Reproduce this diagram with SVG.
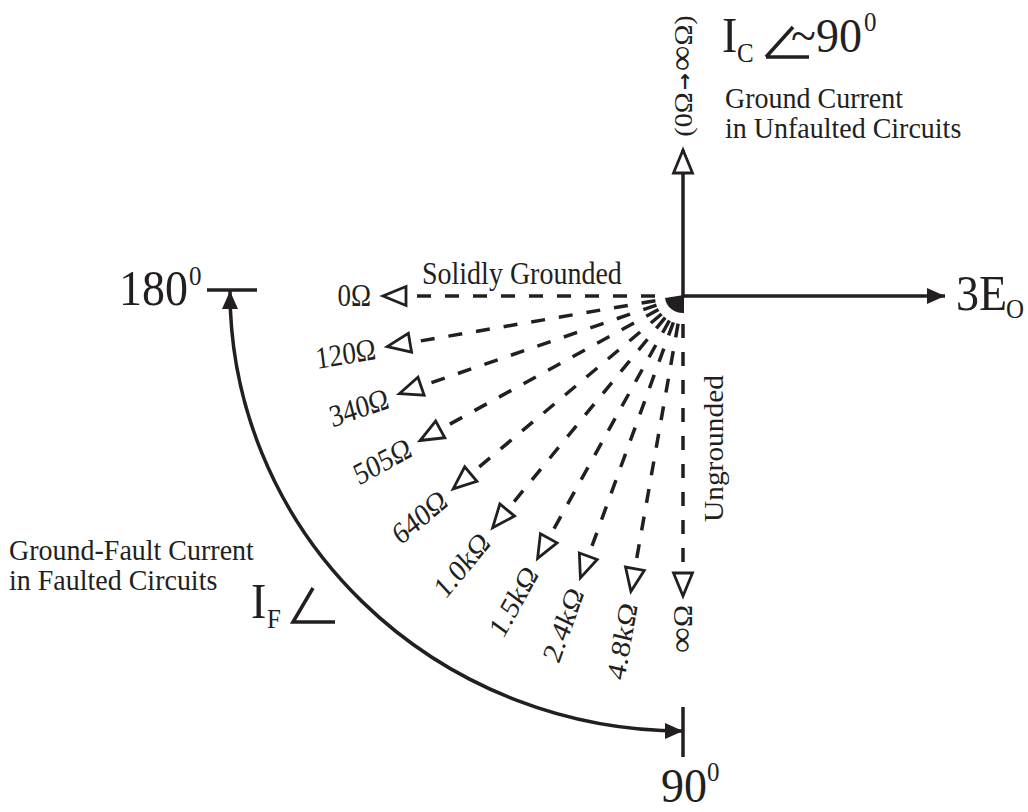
<svg xmlns="http://www.w3.org/2000/svg" width="1028" height="812" viewBox="0 0 1028 812">
<style>
text{font-family:"Liberation Serif","Times New Roman",serif;fill:#231f20}
.big{font-size:46px}
.sub{font-size:25px}
.mid{font-size:28px}
.lab{font-size:27px}
.ax{stroke:#231f20;stroke-width:3.5;fill:none}
.fan{stroke:#231f20;stroke-width:3.5;fill:none;stroke-dasharray:14 14;marker-end:url(#open)}
.arw{font-family:"DejaVu Sans",sans-serif;font-weight:bold}
</style>
<defs>
<marker id="open" viewBox="-27 -13 30 26" refX="0" refY="0" markerWidth="30" markerHeight="26" markerUnits="userSpaceOnUse" orient="auto" overflow="visible">
<path d="M0,0 L-23,-9.5 L-23,9.5 Z" fill="#fff" stroke="#231f20" stroke-width="2.8" stroke-linejoin="miter"/>
</marker>
<marker id="fill" viewBox="-20 -10 22 20" refX="0" refY="0" markerWidth="22" markerHeight="20" markerUnits="userSpaceOnUse" orient="auto-start-reverse" overflow="visible">
<path d="M0,0 L-18,-8 L-18,8 Z" fill="#231f20"/>
</marker>
</defs>

<g id="connectors">
<line class="ax" x1="683" y1="296" x2="945" y2="296" marker-end="url(#fill)"/>
<line class="ax" x1="683" y1="298" x2="683" y2="150" marker-end="url(#open)"/>
<path class="ax" d="M230,291 A453,440 0 0 0 683,731" stroke-width="3" marker-start="url(#fill)" marker-end="url(#fill)"/>
<line class="fan" x1="655" y1="296" x2="383" y2="296"/>
<line class="fan" x1="655.4" y1="300.7" x2="387.3" y2="346.6"/>
<line class="fan" x1="656.5" y1="305.1" x2="399.3" y2="393.7"/>
<line class="fan" x1="658.5" y1="309.5" x2="420.1" y2="440.5"/>
<line class="fan" x1="661.6" y1="314.0" x2="453.2" y2="488.8"/>
<line class="fan" x1="665.2" y1="317.6" x2="492.6" y2="527.8"/>
<line class="fan" x1="669.4" y1="320.5" x2="537.6" y2="558.4"/>
<line class="fan" x1="673.4" y1="322.3" x2="580.4" y2="577.9"/>
<line class="fan" x1="678.1" y1="323.6" x2="630.9" y2="591.4"/>
<line class="fan" x1="683" y1="324" x2="683" y2="596" stroke-width="4"/>
<path d="M684,295 L665,298 A18,17 0 0 0 684,313 Z" fill="#231f20"/>
<line class="ax" x1="207" y1="290" x2="257" y2="290" stroke-width="4"/>
<line class="ax" x1="683" y1="707" x2="683" y2="757" stroke-width="4"/>
</g>

<g id="label-ic">
<text class="big" transform="translate(722,52) scale(1,1.1)">I</text>
<text class="sub" transform="translate(737,62) scale(1,1.1)">C</text>
<path class="ax" d="M766,57 L793,27 M766,57 H809" stroke-width="3"/>
<text class="big" font-size="49" transform="translate(791,52) scale(1,1.05)">~90</text>
<text class="sub" transform="translate(864,31) scale(1,1.1)">0</text>
<text class="mid" transform="translate(725,108) scale(1,1.08)">Ground Current</text>
<text class="mid" transform="translate(725,138) scale(1,1.08)">in Unfaulted Circuits</text>
<text font-size="26" text-anchor="middle" transform="translate(692,76) scale(1,1.08) rotate(-90)">(0Ω<tspan class="arw" font-size="19" dx="2" dy="-1">→</tspan><tspan dx="2" dy="1" font-size="33">∞</tspan>Ω)</text>
</g>

<g id="label-3eo">
<text class="big" transform="translate(956,310) scale(1,1.1)">3E</text>
<text class="sub" transform="translate(1006,318) scale(1,1.1)">O</text>
</g>

<g id="label-180">
<text class="big" transform="translate(119,305) scale(1,1.1)">180</text>
<text class="sub" transform="translate(189,285) scale(1,1.1)">0</text>
</g>

<g id="label-90">
<text class="big" transform="translate(661,802) scale(1,1.06)">90</text>
<text class="sub" transform="translate(707,781) scale(1,1.1)">0</text>
</g>

<g id="label-if">
<text class="big" transform="translate(251,618) scale(1,1.1)">I</text>
<text class="sub" transform="translate(267,628) scale(1,1.1)">F</text>
<path class="ax" d="M313,588 L293,622 H335" stroke-width="3"/>
<text class="mid" transform="translate(9,560) scale(1,1.08)">Ground-Fault Current</text>
<text class="mid" transform="translate(9,590) scale(1,1.08)">in Faulted Circuits</text>
</g>

<g id="label-solid">
<text class="mid" font-size="27" transform="translate(422,284) scale(1,1.12)">Solidly Grounded</text>
</g>
<g id="label-ungrounded">
<text class="mid" font-size="27" transform="translate(723,522) scale(1,1.05) rotate(-90)">Ungrounded</text>
</g>

<g id="fan-labels">
<text class="lab" text-anchor="end" y="9" transform="translate(371,296) scale(1,1.15)">0Ω</text>
<text class="lab" text-anchor="end" y="9" transform="translate(375.5,348.6) scale(1,1.15) rotate(-8.45)">120Ω</text>
<text class="lab" text-anchor="end" y="9" transform="translate(388,397.6) scale(1,1.15) rotate(-16.67)">340Ω</text>
<text class="lab" text-anchor="end" y="9" transform="translate(409.6,446.3) scale(1,1.15) rotate(-25.55)">505Ω</text>
<text class="lab" text-anchor="end" y="9" transform="translate(444,496.6) scale(1,1.15) rotate(-36.12)">640Ω</text>
<text class="lab" text-anchor="end" y="9" transform="translate(485,537) scale(1,1.15) rotate(-46.63)">1.0kΩ</text>
<text class="lab" text-anchor="end" y="9" transform="translate(531.7,568.9) scale(1,1.15) rotate(-57.48)">1.5kΩ</text>
<text class="lab" text-anchor="end" y="9" transform="translate(576.3,589.2) scale(1,1.15) rotate(-67.29)">2.4kΩ</text>
<text class="lab" text-anchor="end" y="9" transform="translate(628.8,603.3) scale(1,1.15) rotate(-78.54)">4.8kΩ</text>
<text class="lab" text-anchor="end" y="9" transform="translate(683,605) scale(1,1.1) rotate(-90)"><tspan font-size="33">∞</tspan>Ω</text>
</g>
</svg>
